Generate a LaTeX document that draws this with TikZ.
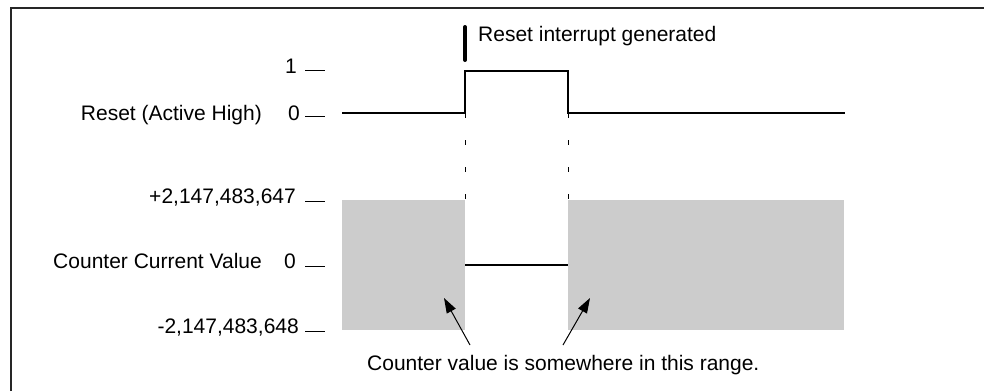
\documentclass[tikz,border=0pt]{standalone}
\usepackage{fontspec}
\setmainfont{Liberation Sans}
\usetikzlibrary{arrows.meta}
\definecolor{rangegray}{HTML}{CCCCCC}
\begin{document}
\begin{tikzpicture}[x=1pt,y=-1pt,
  lbl/.style={inner sep=0pt,font=\fontsize{21}{25}\selectfont},
  tickline/.style={line width=1pt},
  signal/.style={line width=1.3pt},
  guide/.style={line width=1pt,dash pattern=on 5pt off 22pt},
  pointer/.style={line width=1pt,-{Triangle[length=15pt,width=10pt]}}]
\useasboundingbox (0,0) rectangle (984,391);
% frame
\draw[line width=1.6pt,black!85] (11,391) -- (11,8) -- (984,8);
% gray ranges
\fill[rangegray] (342,200) rectangle (465,330);
\fill[rangegray] (568,200) rectangle (844,330);
% labels
\node[lbl,anchor=base east] (one) at (297,73) {1};
\node[lbl,anchor=base east] (rlab) at (262,120) {Reset (Active High)};
\node[lbl,anchor=base east] (rzero) at (300,120) {0};
\node[lbl,anchor=base east] (pmax) at (296,203) {+2,147,483,647};
\node[lbl,anchor=base east] (clab) at (262,268) {Counter Current Value};
\node[lbl,anchor=base east] (czero) at (296,268) {0};
\node[lbl,anchor=base east] (nmin) at (299,333) {-2,147,483,648};
\node[lbl,anchor=base west] (irq) at (478,41) {Reset interrupt generated};
\node[lbl,anchor=base west] (cap) at (367,370) {Counter value is somewhere in this range.};
% ticks
\foreach \y in {70,116,201,266,331}
  \draw[tickline] (305,\y) -- (325,\y);
% reset signal
\coordinate (r0) at (342,113);
\coordinate (r1) at (465,113);
\coordinate (r2) at (465,71);
\coordinate (r3) at (568,71);
\coordinate (r4) at (568,113);
\coordinate (r5) at (845,113);
\draw[signal] (r0) -- (r1) -- (r2) -- (r3) -- (r4) -- (r5);
% interrupt mark
\coordinate (b0) at (465,27);
\coordinate (b1) at (465,60);
\draw[line width=4pt,line cap=round] (b0) -- (b1);
% guides
\coordinate (g0) at (465,200);
\coordinate (g1) at (568,200);
\draw[guide] (r1) -- (g0);
\draw[guide] (r4) -- (g1);
% counter zero line
\coordinate (c0) at (465,265);
\coordinate (c1) at (568,265);
\draw[signal] (c0) -- (c1);
% pointers
\coordinate (p0) at (470,345);
\coordinate (t0) at (444,298);
\coordinate (p1) at (563,345);
\coordinate (t1) at (590,298);
\draw[pointer] (p0) -- (t0);
\draw[pointer] (p1) -- (t1);
\end{tikzpicture}
\end{document}
